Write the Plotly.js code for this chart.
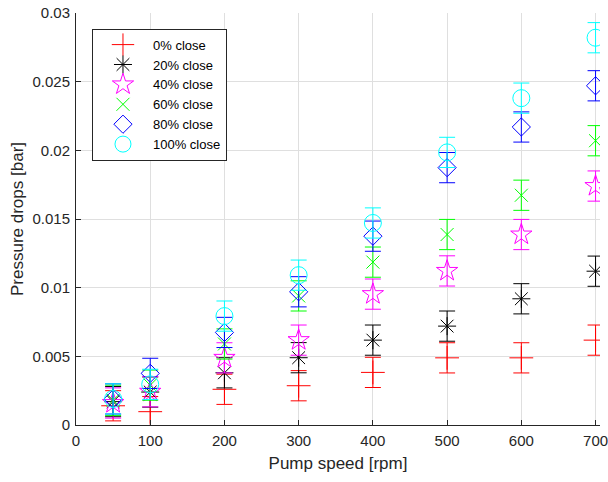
<!DOCTYPE html>
<html>
<head>
<meta charset="utf-8">
<script src="https://cdn.plot.ly/plotly-3.0.1.min.js"></script>
<style>html,body{margin:0;padding:0;background:#fff;}#chart{width:608px;height:482px;}</style>
</head>
<body>
<div id="chart"></div>
<script>
const speeds = [50, 100, 200, 300, 400, 500, 600, 700];
const seriesNames = ["0% close", "20% close", "40% close", "60% close", "80% close", "100% close"];
const close0   = [0.0014, 0.00097, 0.0026, 0.00286, 0.00383, 0.00489, 0.00489, 0.00618];
const close20  = [0.0017, 0.0024, 0.0038, 0.0049, 0.00618, 0.0072, 0.00919, 0.0112];
const close40  = [0.0016, 0.00242, 0.00489, 0.00618, 0.00953, 0.01122, 0.01387, 0.0174];
const close60  = [0.0018, 0.0029, 0.0059, 0.0094, 0.01186, 0.01387, 0.01673, 0.0207];
const close80  = [0.0019, 0.00376, 0.00674, 0.0097, 0.01375, 0.01874, 0.0217, 0.0247];
const close100 = [0.0019, 0.00296, 0.00793, 0.01091, 0.01471, 0.01985, 0.0238, 0.0282];
const errors   = [0.0011, 0.0011, 0.0011, 0.0011, 0.0011, 0.0011];

const values = [close0, close20, close40, close60, close80, close100];
const colors = ["#ff0000", "#000000", "#ff00ff", "#00ff00", "#0000ff", "#00ffff"];
const symbols = ["cross-thin-open", "asterisk-open", "star-open", "x-thin-open", "diamond-open", "circle-open"];
const sizes = [17, 15, 16, 13, 14, 17];

const traces = values.map((v, i) => ({
  x: speeds,
  y: v,
  name: seriesNames[i],
  type: "scatter",
  mode: "markers",
  marker: {symbol: symbols[i], size: sizes[i], color: colors[i], line: {color: colors[i], width: 1}},
  error_y: {type: "constant", value: errors[i], color: colors[i], thickness: 1, width: 8},
  cliponaxis: true
}));

const layout = {
  width: 608, height: 482,
  margin: {l: 76, r: 8, t: 12.5, b: 57},
  paper_bgcolor: "#fff", plot_bgcolor: "#fff",
  font: {family: "Liberation Sans, Arial, sans-serif", size: 15, color: "#262626"},
  showlegend: true,
  legend: {
    x: 0.0305, y: 0.962, xanchor: "left", yanchor: "top",
    bgcolor: "#fff", bordercolor: "#262626", borderwidth: 1,
    font: {size: 13, color: "#000"},
    tracegroupgap: 0, itemwidth: 50
  },
  xaxis: {
    range: [0, 706], tickvals: [0, 100, 200, 300, 400, 500, 600, 700],
    showgrid: true, gridcolor: "#dfdfdf", gridwidth: 1,
    zeroline: false, showline: true, linecolor: "#262626", linewidth: 1,
    ticks: "inside", ticklen: 5, tickcolor: "#262626",
    ticklabelstandoff: 2, ticklabeloverflow: "allow",
    tickfont: {size: 15, color: "#262626"},
    title: {text: "Pump speed [rpm]", font: {size: 17, color: "#262626"}, standoff: 9}
  },
  yaxis: {
    range: [0, 0.03], tickvals: [0, 0.005, 0.01, 0.015, 0.02, 0.025, 0.03],
    ticktext: ["0", "0.005", "0.01", "0.015", "0.02", "0.025", "0.03"],
    showgrid: true, gridcolor: "#dfdfdf", gridwidth: 1,
    zeroline: false, showline: true, linecolor: "#262626", linewidth: 1,
    ticks: "inside", ticklen: 5, tickcolor: "#262626",
    ticklabelstandoff: 2, ticklabeloverflow: "allow",
    tickfont: {size: 15, color: "#262626"},
    title: {text: "Pressure drops [bar]", font: {size: 17, color: "#262626"}, standoff: 4}
  }
};

Plotly.newPlot("chart", traces, layout, {staticPlot: true, displayModeBar: false});
</script>
</body>
</html>
